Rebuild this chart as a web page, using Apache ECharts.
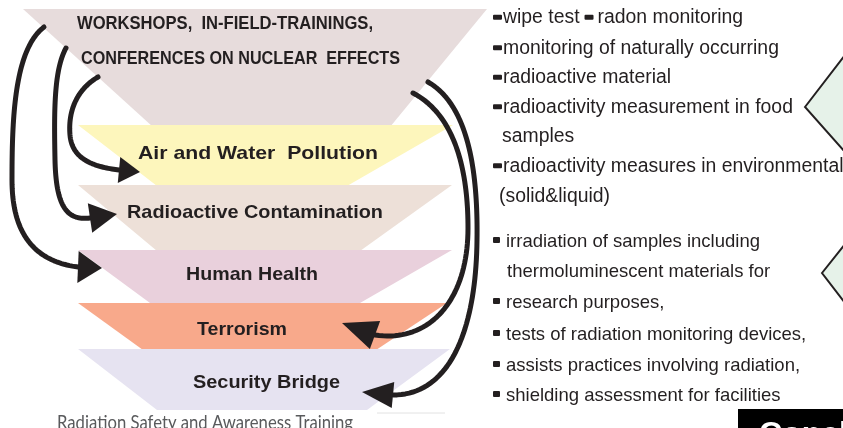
<!DOCTYPE html>
<html><head><meta charset="utf-8">
<script src="https://cdn.jsdelivr.net/npm/echarts@6/dist/echarts.min.js"></script>
<style>html,body{margin:0;padding:0;background:#fff}#c{width:843px;height:428px}</style>
</head><body><div id="c"></div>
<script>
// ---- content ----
const layerLabels = ['WORKSHOPS,  IN-FIELD-TRAININGS,\nCONFERENCES ON NUCLEAR  EFFECTS','Air and Water  Pollution','Radioactive Contamination','Human Health','Terrorism','Security Bridge'];
const layerColors = ['#e7dcdc','#fdf6bc','#ede0d8','#e9d0dc','#f8a98b','#e6e3f1'];
const bulletsA = ['■wipe test ■ radon monitoring','■monitoring of naturally occurring','■radioactive material','■radioactivity measurement in food','samples','■radioactivity measures in environmental','(solid&liquid)'];
const bulletsB = ['■ irradiation of samples including','thermoluminescent materials for','■ research purposes,','■ tests of radiation monitoring devices,','■ assists practices involving radiation,','■ shielding assessment for facilities'];
const captionText = 'Radiation Safety and Awareness Training';
const boxText = 'Conclusion';

// ---- layout (diagram coordinates = axis units) ----
const layerShapes = [
  [[23,9],[487,9],[390,127],[153,127]],
  [[78,125],[453,125],[347,186],[157,186]],
  [[78,185],[452,185],[360,251],[157,251]],
  [[78,250],[452,250],[360,303],[150,303]],
  [[78,303],[447,303],[376,350],[143,350]],
  [[78,349],[450,349],[367,410],[157,410]]
];
const labelPos = [
  [[77,21.5,296,19],[81,56.5,319,19]],
  [[138,152,240,19]],[[127,211,256,19]],[[186,273,132,19]],[[197,328,90,19]],[[193,381,147,19]]
];
const TEXT_DY = 2.2;
const bulletsAPos = {x:[493,493,493,493,502,493,499], y:[15.5,46,75.5,105,134,164,194], size:19.4, bw:9, bh:5, gap:1, bdy:1.8};
const bulletsBPos = {x:[493,507,493,493,493,493], y:[240,270,301,333,364,394], size:18.5, bw:7, bh:6, gap:6, bdy:0};
const arrowPaths = [
  {start:[44,27], segs:[[[14,50],[12,120],[12,180]],[[12,240],[40,262],[78,267]]], tip:[102,268], hw:16},
  {start:[66,48], segs:[[[54,70],[54,110],[55,160]],[[56,205],[66,221],[90,218]]], tip:[117,214], hw:15},
  {start:[98,77], segs:[[[76,90],[68,112],[70,135]],[[72,160],[95,167],[119,170]]], tip:[140,172], hw:13},
  {start:[413,93], segs:[[[455,115],[468,170],[468,228]],[[468,300],[430,343],[375,335]]], tip:[342,323], hw:15},
  {start:[428,82], segs:[[[468,105],[478,170],[477,240]],[[476,330],[450,395],[393,395]]], tip:[362,392], hw:13}
];

const INK = '#231f20';
const SANS = "'Liberation Sans', Arial, Helvetica, sans-serif";
const CAP = "Lato, 'Open Sans', sans-serif";
const mctx = document.createElement('canvas').getContext('2d');
function measure(t, size, weight, fam){ mctx.font = weight + ' ' + size + 'px ' + fam; return mctx.measureText(t).width; }
function txt(api, x, y, text, o){
  const p = api.coord([x, y + TEXT_DY]);
  const fam = o.family || SANS, wt = o.weight || 'normal';
  const sx = o.width ? o.width / measure(text, o.size, wt, fam) : 1;
  return {type:'text', x:p[0], y:p[1], scaleX:sx, style:{text:text, fill:o.color||INK, fontSize:o.size, fontWeight:wt, fontFamily:fam, align:'left', verticalAlign:'middle'}};
}
function poly(api, pts, style){ return {type:'polygon', shape:{points:pts.map(p=>api.coord(p))}, style:style}; }
function bez(a,b,c,d,t){ const u=1-t; return [u*u*u*a[0]+3*u*u*t*b[0]+3*u*t*t*c[0]+t*t*t*d[0], u*u*u*a[1]+3*u*u*t*b[1]+3*u*t*t*c[1]+t*t*t*d[1]]; }

function bulletLine(api, line, x, y, L){
  const kids = [];
  const parts = line.split('■');
  let cx = x;
  parts.forEach((seg, j) => {
    if (j > 0) {
      const a = api.coord([cx, y - L.bh/2 + L.bdy]);
      kids.push({type:'rect', shape:{x:a[0], y:a[1], width:L.bw, height:L.bh, r:1}, style:{fill:INK}});
      cx += L.bw + (j === 1 ? L.gap : 4);
    }
    const s = seg.replace(/^\s+/, '').replace(/\s+$/, '');
    if (s) {
      kids.push(txt(api, cx, y, s, {size:L.size}));
      cx += measure(s, L.size, 'normal', SANS) + 5;
    }
  });
  return kids;
}

const chart = echarts.init(document.getElementById('c'));
chart.setOption({
  animation:false,
  grid:{left:0,right:0,top:0,bottom:0},
  xAxis:{type:'value', min:0, max:843, show:false},
  yAxis:{type:'value', min:0, max:428, inverse:true, show:false},
  series:[
    {type:'custom', name:'layers', coordinateSystem:'cartesian2d', silent:true,
     data: layerLabels.map((_, i) => [i, 0]),
     renderItem: (params, api) => {
       const i = api.value(0);
       const kids = [poly(api, layerShapes[i], {fill:layerColors[i]})];
       layerLabels[i].split('\n').forEach((t, k) => {
         const lp = labelPos[i][k];
         kids.push(txt(api, lp[0], lp[1], t, {size:lp[3], weight:'bold', width:lp[2]}));
       });
       return {type:'group', children:kids};
     }},
    {type:'custom', name:'arrows', coordinateSystem:'cartesian2d', silent:true,
     data: arrowPaths.map((_, i) => [i, 0]),
     renderItem: (params, api) => {
       const a = arrowPaths[api.value(0)];
       const pts = [a.start];
       let p0 = a.start;
       a.segs.forEach(s => { for (let k=1;k<=40;k++) pts.push(bez(p0, s[0], s[1], s[2], k/40)); p0 = s[2]; });
       const end = p0, tip = a.tip;
       const dx = tip[0]-end[0], dy = tip[1]-end[1], len = Math.hypot(dx,dy);
       const nx = -dy/len*a.hw, ny = dx/len*a.hw;
       return {type:'group', children:[
         {type:'polyline', shape:{points:pts.map(p=>api.coord(p))}, style:{stroke:INK, lineWidth:5, fill:null, lineCap:'round', lineJoin:'round'}},
         poly(api, [tip, [end[0]+nx, end[1]+ny], [end[0]-nx, end[1]-ny]], {fill:INK})
       ]};
     }},
    {type:'custom', name:'bulletsA', coordinateSystem:'cartesian2d', silent:true,
     data: bulletsA.map((_, i) => [i, 0]),
     renderItem: (params, api) => {
       const i = api.value(0);
       return {type:'group', children: bulletLine(api, bulletsA[i], bulletsAPos.x[i], bulletsAPos.y[i], bulletsAPos)};
     }},
    {type:'custom', name:'bulletsB', coordinateSystem:'cartesian2d', silent:true,
     data: bulletsB.map((_, i) => [i, 0]),
     renderItem: (params, api) => {
       const i = api.value(0);
       return {type:'group', children: bulletLine(api, bulletsB[i], bulletsBPos.x[i], bulletsBPos.y[i], bulletsBPos)};
     }},
    {type:'custom', name:'decor', coordinateSystem:'cartesian2d', silent:true,
     data: [[0,0]],
     renderItem: (params, api) => {
       const b0 = api.coord([738,409]), b1 = api.coord([843,428]);
       const l0 = api.coord([377,413]), l1 = api.coord([445,413]);
       return {type:'group', children:[
         poly(api, [[805,107],[845,55],[885,107],[845,152]], {fill:'#e6f2e9', stroke:INK, lineWidth:2}),
         poly(api, [[822,273],[845,244],[868,273],[845,303]], {fill:'#e6f2e9', stroke:INK, lineWidth:2}),
         {type:'rect', shape:{x:b0[0], y:b0[1], width:b1[0]-b0[0], height:b1[1]-b0[1]+4}, style:{fill:'#000'}},
         txt(api, 759, 432.5, boxText, {size:32, weight:'bold', color:'#fff'}),
         {type:'line', shape:{x1:l0[0], y1:l0[1], x2:l1[0], y2:l1[1]}, style:{stroke:'#e2e2e2', lineWidth:1}},
         txt(api, 57, 420.5, captionText, {size:19, family:CAP, color:'#595a5c', width:296})
       ]};
     }}
  ]
});
</script></body></html>
